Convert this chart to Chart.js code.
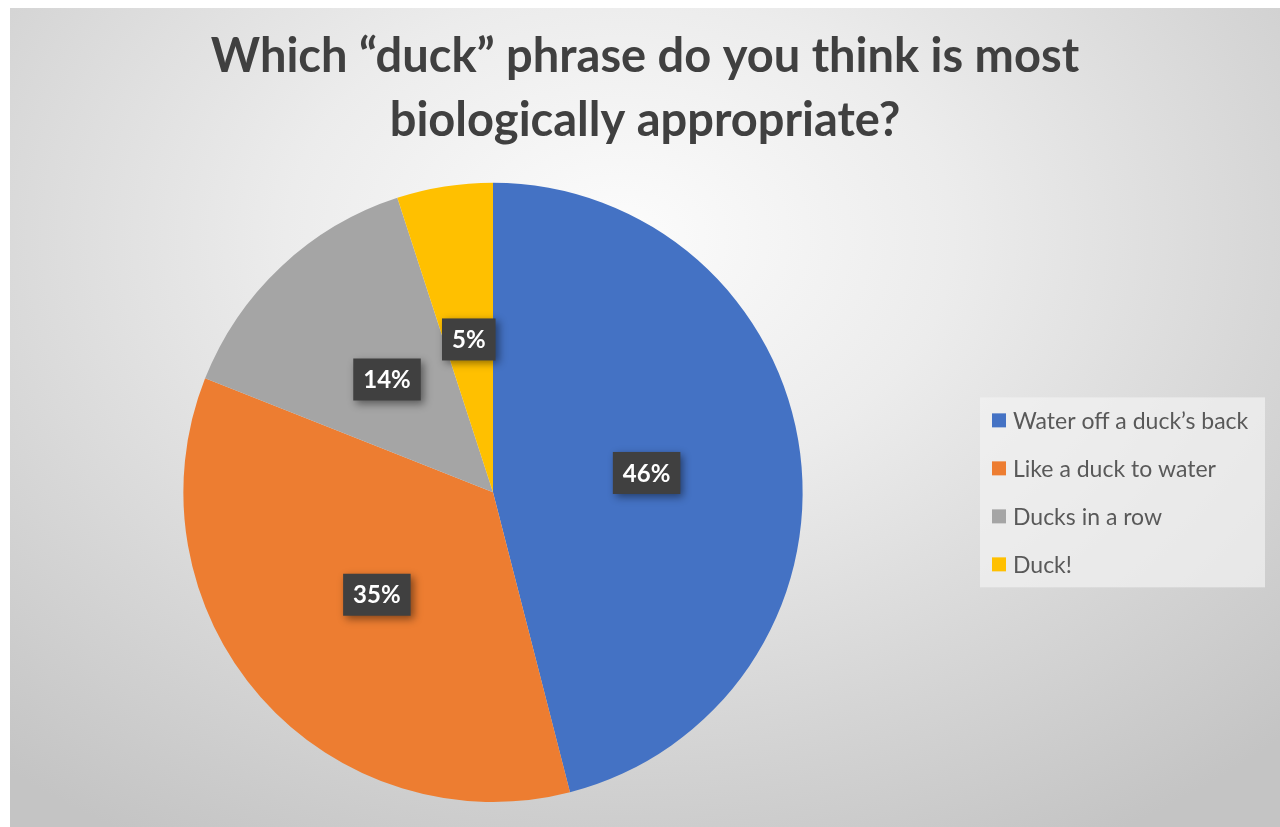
<!DOCTYPE html>
<html>
<head>
<meta charset="utf-8">
<script src="https://cdn.jsdelivr.net/npm/chart.js@4/dist/chart.umd.min.js"></script>
<style>
  html, body { margin: 0; padding: 0; background: #fff; }
  #wrap {
    position: absolute; left: 10px; top: 8px; width: 1270px; height: 819px;
    background: radial-gradient(ellipse 75% 85% at 48% 28%, #fcfcfc 0%, #ececec 35%, #d6d6d6 70%, #c4c4c4 100%);
  }
</style>
</head>
<body>
<div id="wrap"><canvas id="pieChart" width="1270" height="819"></canvas></div>
<script>
// survey answers
const phrases = ["Water off a duck’s back", "Like a duck to water", "Ducks in a row", "Duck!"];
const shares = [46, 35, 14, 5];
const sliceColors = ["#4472C4", "#ED7D31", "#A5A5A5", "#FFC000"];
const titleLines = ["Which “duck” phrase do you think is most", "biologically appropriate?"];

// ── dark percent boxes on each slice
const pctLabels = {
  id: "pctLabels",
  afterDatasetsDraw(chart) {
    const ctx = chart.ctx;
    const meta = chart.getDatasetMeta(0);
    ctx.save();
    ctx.font = "bold 24px Lato";
    ctx.textAlign = "center";
    ctx.textBaseline = "middle";
    meta.data.forEach((arc, i) => {
      const p = arc.tooltipPosition();
      const txt = shares[i] + "%";
      const w = ctx.measureText(txt).width + 20;
      const h = 42;
      ctx.save();
      ctx.shadowColor = "rgba(0,0,0,0.45)";
      ctx.shadowBlur = 8;
      ctx.shadowOffsetX = 3;
      ctx.shadowOffsetY = 3;
      ctx.fillStyle = "#404040";
      ctx.fillRect(p.x - w / 2, p.y - h / 2, w, h);
      ctx.restore();
      ctx.fillStyle = "#ffffff";
      ctx.fillText(txt, p.x, p.y + 1);
    });
    ctx.restore();
  },
};

// ── legend as its own layout box on the right
const sideLegend = {
  id: "sideLegend",
  beforeInit(chart) {
    const box = {
      position: "right",
      weight: 0,
      fullSize: false,
      options: {},
      left: 0, top: 0, right: 0, bottom: 0, width: 0, height: 0,
      update(maxWidth, maxHeight) {
        this.width = 304;
        this.height = maxHeight;
      },
      getPadding() { return { left: 0, top: 0, right: 0, bottom: 0 }; },
      isHorizontal() { return false; },
      draw() {
        const ctx = chart.ctx;
        const ca = chart.chartArea;
        const cy = (ca.top + ca.bottom) / 2;
        const step = 48;
        const bgH = 190;
        ctx.save();
        ctx.fillStyle = "rgba(242,242,242,0.7)";
        ctx.fillRect(this.left + 4, cy - bgH / 2, 285, bgH);
        ctx.font = "23px Lato";
        ctx.textBaseline = "middle";
        phrases.forEach((name, i) => {
          const y = cy + (i - (phrases.length - 1) / 2) * step;
          ctx.fillStyle = sliceColors[i];
          ctx.fillRect(this.left + 16, y - 7, 14, 14);
          ctx.fillStyle = "#595959";
          ctx.fillText(name, this.left + 37, y + 1);
        });
        ctx.restore();
      },
    };
    Chart.layouts.addBox(chart, box);
  },
};

new Chart(document.getElementById("pieChart").getContext("2d"), {
  type: "pie",
  data: {
    labels: phrases,
    datasets: [
      {
        data: shares,
        backgroundColor: sliceColors,
        borderWidth: 0,
      },
    ],
  },
  options: {
    responsive: false,
    animation: false,
    layout: { padding: { left: 0, right: 0, bottom: 25, top: 0 } },
    plugins: {
      title: {
        display: true,
        text: titleLines,
        color: "#404040",
        font: { family: "Lato", size: 47, weight: "bold", lineHeight: 1.38 },
        padding: { top: 16, bottom: 29 },
      },
      legend: { display: false },
      tooltip: { enabled: false },
    },
  },
  plugins: [pctLabels, sideLegend],
});
</script>
</body>
</html>
